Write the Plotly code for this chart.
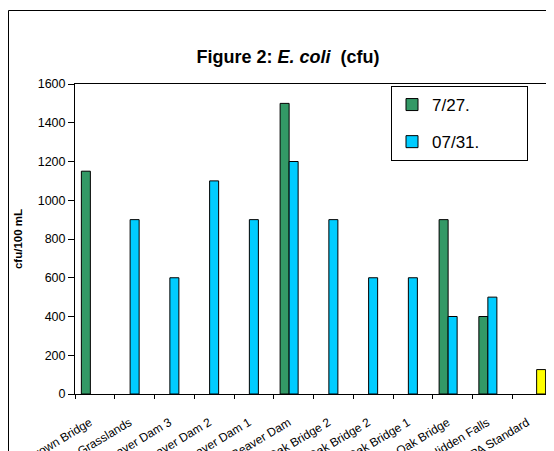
import plotly.graph_objects as go

categories = ["Brown Bridge", "Grasslands", "Beaver Dam 3", "Beaver Dam 2", "Beaver Dam 1",
              "Beaver Dam", "Oak Bridge 2", "Oak Bridge 2", "Oak Bridge 1", "Oak Bridge",
              "Hidden Falls", "EPA Standard"]
series_0727 = [1150, None, None, None, None, 1500, None, None, None, 900, 400, None]
series_0731 = [None, 900, 600, 1100, 900, 1200, 900, 600, 600, 400, 500, None]
epa_standard = [None, None, None, None, None, None, None, None, None, None, None, 126]
y_ticks = [0, 200, 400, 600, 800, 1000, 1200, 1400, 1600]

xpos = list(range(len(categories)))
FONT = "Arial, Liberation Sans, sans-serif"
PAD = "\u00a0" * 9  # widens the legend box like the reference

fig = go.Figure()
fig.add_trace(go.Bar(x=xpos, y=series_0727, name="7/27." + PAD, legendgroup="a",
                     marker=dict(color="#339966", line=dict(color="black", width=1))))
fig.add_trace(go.Bar(x=xpos, y=series_0731, name="07/31." + PAD, legendgroup="b",
                     marker=dict(color="#00CCFF", line=dict(color="black", width=1))))
fig.add_trace(go.Bar(x=xpos, y=epa_standard, name="EPA Standard", showlegend=False,
                     marker=dict(color="#FFFF00", line=dict(color="black", width=1))))

# page body has an 8px margin, so the figure is sized to the remaining window area
OFF = 8
W, H = 554 - OFF, 451 - OFF
L, R, T, B = 75 - OFF, 2, 84 - OFF, 451 - 394
pw, ph = W - L - R, H - T - B

def px_x(page_x):
    return (page_x - OFF - L) / pw

def px_y(page_y):
    return (H - B - (page_y - OFF)) / ph

fig.update_layout(
    width=W, height=H,
    margin=dict(l=L, r=R, t=T, b=B, autoexpand=False),
    paper_bgcolor="white", plot_bgcolor="white",
    barmode="group", bargap=0.32, bargroupgap=0,
    font=dict(family=FONT, color="black", size=11),
    title=dict(text="<b>Figure 2: <i>E. coli</i>\u00a0\u00a0(cfu)</b>", x=(288 - OFF) / W,
               xref="container", xanchor="center", y=1 - (57 - OFF) / H, yref="container",
               yanchor="middle", font=dict(family=FONT, size=18, color="black")),
    legend=dict(x=px_x(391), y=px_y(86), xanchor="left", yanchor="top",
                bordercolor="black", borderwidth=1, bgcolor="white",
                font=dict(family=FONT, size=17, color="black"),
                traceorder="grouped", tracegroupgap=12, itemclick=False),
    xaxis=dict(range=[-0.5, len(categories) - 0.5], tickmode="array", tickvals=xpos,
               ticktext=categories, tickangle=-31, ticks="", showgrid=False, zeroline=False,
               showline=True, linecolor="black", linewidth=1, mirror=True,
               ticklabelstandoff=16, ticklabelshift=-5,
               tickfont=dict(family=FONT, size=12, color="black"),
               minor=dict(tick0=0.5, dtick=1, ticks="outside", ticklen=4, tickcolor="black",
                          showgrid=False)),
    yaxis=dict(range=[0, 1600], tickmode="array", tickvals=y_ticks, ticks="outside", ticklen=6,
               tickcolor="black", showgrid=False, zeroline=False, showline=True,
               linecolor="black", linewidth=1, mirror=True,
               tickfont=dict(family=FONT, size=12.5, color="black"),
               title=dict(text="<b>cfu/100 mL</b>", standoff=12,
                          font=dict(family=FONT, size=11.5, color="black"))),
    shapes=[dict(type="rect", xref="paper", yref="paper",
                 x0=px_x(8.5), x1=1.3, y0=-0.6, y1=px_y(10.5),
                 line=dict(color="black", width=1), fillcolor="rgba(0,0,0,0)", layer="below")],
)

fig.write_html("out.html")
